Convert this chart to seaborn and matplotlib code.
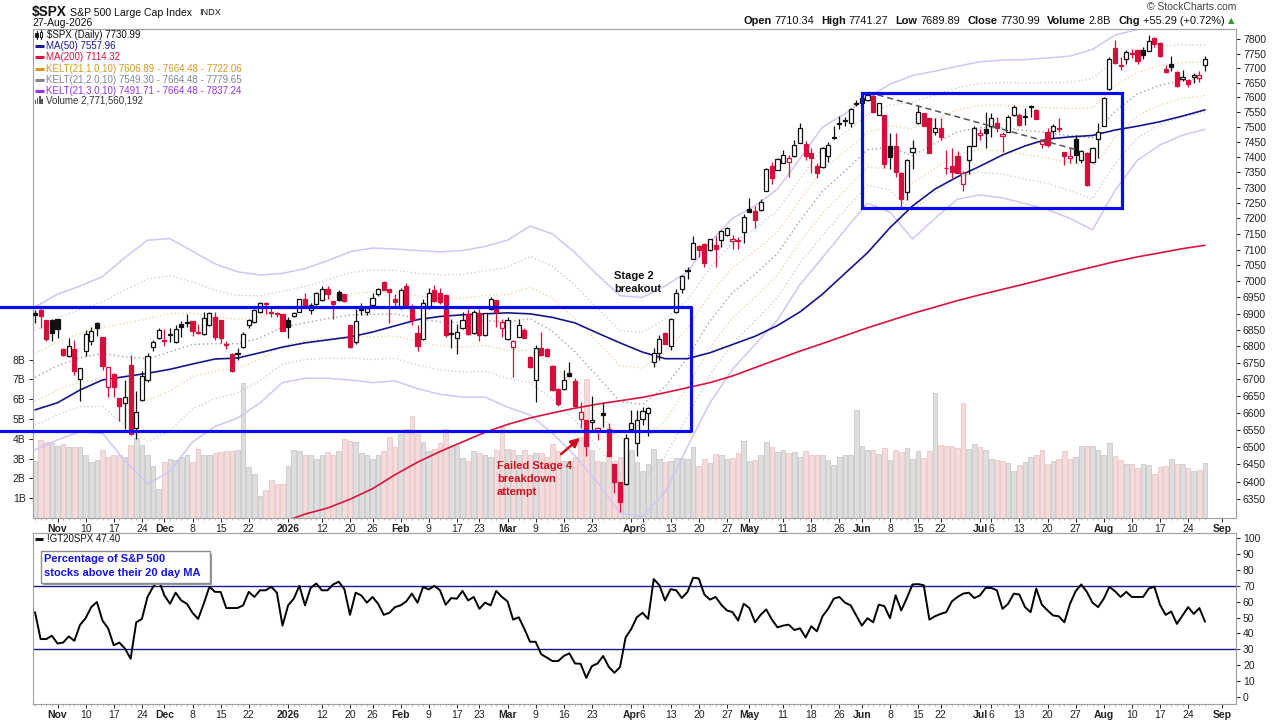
import numpy as np
import pandas as pd
import matplotlib
matplotlib.use("Agg")
import matplotlib.pyplot as plt
from matplotlib.lines import Line2D
from matplotlib.patches import Rectangle
from matplotlib.ticker import FixedLocator, NullLocator, FuncFormatter
import seaborn as sns

# ---------------- data ----------------
# daily candles, 28-Oct-2025 .. 27-Aug-2026
opens = [6901, 6912, 6879, 6881, 6884, 6791, 6771, 6791, 6701, 6786,
         6817, 6870, 6829, 6676, 6717, 6644, 6629, 6742, 6556, 6639,
         6699, 6796, 6824, 6819, 6833, 6814, 6869, 6871, 6877, 6841,
         6836, 6864, 6889, 6879, 6806, 6776, 6780, 6796, 6864, 6874,
         6904, 6934, 6906, 6902, 6897, 6881, 6891, 6906, 6944, 6912,
         6929, 6942, 6976, 6938, 6966, 6959, 6866, 6814, 6912, 6906,
         6926, 6962, 6999, 6977, 6946, 6916, 6984, 6922, 6839, 6821,
         6916, 6974, 6965, 6956, 6839, 6824, 6854, 6898, 6839, 6901,
         6834, 6913, 6942, 6854, 6821, 6797, 6829, 6849, 6768, 6698,
         6793, 6791, 6740, 6670, 6670, 6718, 6695, 6582, 6579, 6572,
         6548, 6600, 6552, 6451, 6400, 6394, 6552, 6511, 6582, 6599,
         6751, 6780, 6839, 6801, 6906, 6975, 7034, 7071, 7113, 7118,
         7099, 7116, 7131, 7147, 7127, 7130, 7156, 7230, 7225, 7227,
         7290, 7372, 7358, 7381, 7385, 7403, 7448, 7444, 7412, 7372,
         7366, 7403, 7468, 7510, 7524, 7515, 7578, 7580, 7593, 7604,
         7541, 7539, 7436, 7436, 7346, 7285, 7418, 7513, 7546, 7529,
         7482, 7498, 7365, 7372, 7404, 7311, 7390, 7438, 7473, 7493,
         7502, 7513, 7470, 7484, 7540, 7540, 7533, 7571, 7557, 7442,
         7485, 7487, 7496, 7416, 7398, 7460, 7391, 7412, 7384, 7459,
         7505, 7630, 7770, 7712, 7733, 7753, 7764, 7764, 7761, 7806,
         7787, 7699, 7715, 7688, 7663, 7659, 7671, 7666, 7710.34]
highs = [6911, 6919, 6880, 6884, 6884, 6795, 6824, 6819, 6734, 6849,
         6859, 6874, 6829, 6737, 6719, 6644, 6699, 6774, 6664, 6724,
         6779, 6819, 6854, 6851, 6854, 6866, 6876, 6899, 6877, 6869,
         6904, 6904, 6904, 6879, 6815, 6778, 6794, 6844, 6884, 6914,
         6936, 6937, 6916, 6906, 6899, 6889, 6904, 6946, 6964, 6934,
         6966, 6984, 6984, 6938, 6974, 6962, 6866, 6914, 6934, 6924,
         6964, 6979, 7000, 6977, 6959, 6979, 6994, 6929, 6864, 6944,
         6979, 6989, 6980, 6959, 6884, 6869, 6906, 6913, 6911, 6913,
         6903, 6952, 6942, 6882, 6890, 6819, 6882, 6854, 6770, 6803,
         6844, 6793, 6743, 6673, 6728, 6753, 6703, 6633, 6579, 6650,
         6560, 6631, 6570, 6451, 6400, 6539, 6609, 6609, 6617, 6616,
         6793, 6834, 6844, 6885, 6975, 7021, 7046, 7144, 7116, 7120,
         7134, 7144, 7162, 7173, 7147, 7139, 7214, 7265, 7240, 7262,
         7364, 7383, 7396, 7424, 7406, 7457, 7515, 7454, 7429, 7379,
         7434, 7451, 7503, 7537, 7535, 7563, 7593, 7600, 7620, 7615,
         7582, 7541, 7479, 7479, 7350, 7394, 7457, 7574, 7546, 7529,
         7529, 7529, 7423, 7429, 7420, 7354, 7438, 7502, 7493, 7552,
         7546, 7535, 7484, 7540, 7576, 7547, 7563, 7576, 7560, 7457,
         7496, 7509, 7529, 7418, 7429, 7475, 7423, 7418, 7434, 7513,
         7602, 7738, 7798, 7740, 7764, 7767, 7764, 7775, 7815, 7809,
         7792, 7711, 7742, 7690, 7695, 7661, 7684, 7689, 7741.27]
lows = [6871, 6854, 6817, 6816, 6824, 6770, 6766, 6712, 6634, 6771,
        6804, 6831, 6729, 6647, 6647, 6576, 6554, 6534, 6524, 6634,
        6692, 6786, 6821, 6802, 6812, 6809, 6829, 6859, 6831, 6837,
        6834, 6862, 6819, 6809, 6790, 6722, 6759, 6794, 6856, 6871,
        6902, 6899, 6889, 6889, 6846, 6824, 6889, 6904, 6922, 6899,
        6927, 6939, 6944, 6884, 6939, 6936, 6794, 6806, 6894, 6894,
        6924, 6954, 6972, 6871, 6919, 6914, 6916, 6864, 6784, 6819,
        6914, 6937, 6930, 6829, 6794, 6776, 6852, 6834, 6836, 6817,
        6832, 6911, 6860, 6829, 6819, 6708, 6827, 6824, 6733, 6633,
        6770, 6768, 6666, 6620, 6668, 6708, 6618, 6555, 6473, 6545,
        6521, 6560, 6471, 6367, 6315, 6391, 6545, 6473, 6563, 6531,
        6736, 6758, 6806, 6788, 6901, 6963, 7006, 7069, 7078, 7044,
        7097, 7044, 7108, 7142, 7102, 7102, 7121, 7220, 7168, 7225,
        7290, 7313, 7356, 7379, 7333, 7401, 7446, 7390, 7349, 7330,
        7363, 7384, 7460, 7493, 7505, 7499, 7571, 7575, 7589, 7546,
        7539, 7364, 7362, 7336, 7235, 7260, 7360, 7511, 7502, 7412,
        7475, 7457, 7345, 7330, 7350, 7288, 7345, 7436, 7457, 7429,
        7468, 7484, 7418, 7482, 7537, 7505, 7507, 7535, 7526, 7430,
        7435, 7462, 7485, 7374, 7379, 7379, 7379, 7304, 7379, 7397,
        7502, 7627, 7716, 7695, 7714, 7736, 7714, 7733, 7759, 7772,
        7740, 7684, 7689, 7635, 7655, 7635, 7648, 7652, 7689.89]
closes = [6894, 6891, 6822, 6841, 6852, 6774, 6799, 6724, 6734, 6836,
          6847, 6854, 6741, 6736, 6676, 6619, 6646, 6539, 6604, 6709,
          6769, 6814, 6849, 6816, 6836, 6852, 6859, 6874, 6847, 6844,
          6886, 6902, 6829, 6826, 6803, 6724, 6777, 6836, 6881, 6911,
          6931, 6928, 6902, 6898, 6847, 6857, 6901, 6944, 6924, 6926,
          6964, 6976, 6961, 6928, 6942, 6938, 6796, 6877, 6914, 6916,
          6949, 6976, 6974, 6966, 6936, 6972, 6919, 6881, 6801, 6931,
          6964, 6939, 6935, 6834, 6836, 6844, 6880, 6837, 6906, 6834,
          6901, 6944, 6906, 6875, 6880, 6815, 6866, 6826, 6736, 6793,
          6773, 6771, 6668, 6625, 6698, 6711, 6620, 6604, 6503, 6578,
          6555, 6593, 6473, 6400, 6341, 6526, 6569, 6580, 6606, 6614,
          6780, 6821, 6807, 6882, 6963, 7017, 7037, 7121, 7100, 7059,
          7134, 7102, 7158, 7169, 7134, 7126, 7205, 7222, 7195, 7253,
          7361, 7331, 7393, 7406, 7396, 7439, 7496, 7403, 7398, 7349,
          7429, 7441, 7465, 7515, 7519, 7560, 7581, 7597, 7610, 7550,
          7580, 7377, 7401, 7350, 7262, 7390, 7429, 7550, 7505, 7415,
          7496, 7468, 7363, 7352, 7348, 7346, 7436, 7498, 7479, 7480,
          7532, 7498, 7478, 7535, 7568, 7507, 7538, 7568, 7527, 7453,
          7440, 7505, 7493, 7405, 7404, 7406, 7421, 7308, 7430, 7484,
          7597, 7733, 7718, 7707, 7756, 7749, 7724, 7747, 7795, 7785,
          7741, 7686, 7704, 7638, 7670, 7646, 7678, 7675.70, 7730.99]
# volume in billions of shares
volume_b = [2.90, 3.95, 3.86, 3.78, 3.66, 3.75, 3.61, 3.58, 3.58, 3.16,
            2.82, 2.94, 3.41, 3.10, 3.16, 3.16, 3.10, 3.71, 4.05, 3.71,
            3.20, 2.65, 1.47, 2.82, 2.99, 2.94, 3.10, 3.16, 2.82, 3.49,
            3.16, 3.16, 3.27, 3.31, 3.37, 3.37, 3.41, 6.80, 2.60, 2.23,
            1.09, 1.42, 1.93, 1.73, 1.73, 2.65, 3.44, 3.37, 3.20, 3.20,
            2.99, 3.20, 3.33, 3.20, 3.37, 4.00, 3.88, 3.83, 3.27, 3.20,
            2.99, 3.20, 3.37, 4.08, 3.61, 4.25, 4.50, 5.13, 4.25, 3.83,
            3.37, 3.49, 3.78, 4.50, 3.61, 3.66, 3.04, 2.90, 3.37, 3.27,
            3.20, 3.10, 3.44, 4.62, 3.49, 3.41, 3.20, 3.41, 3.20, 3.27,
            3.27, 3.07, 3.75, 3.37, 2.90, 2.90, 3.07, 4.10, 7.00, 3.41,
            2.90, 2.82, 3.32, 2.90, 3.07, 4.00, 3.41, 2.82, 2.36, 2.73,
            3.49, 2.99, 2.82, 2.90, 3.04, 3.04, 2.99, 3.61, 2.65, 2.99,
            2.78, 3.24, 3.20, 2.99, 3.04, 3.29, 3.91, 2.90, 2.94, 3.20,
            3.86, 3.61, 3.33, 3.41, 3.27, 3.33, 3.07, 3.37, 3.16, 3.20,
            3.20, 2.94, 2.70, 3.10, 3.16, 3.20, 5.46, 3.66, 3.41, 3.41,
            3.24, 3.54, 2.94, 3.44, 3.33, 3.54, 2.99, 3.36, 3.04, 3.36,
            6.32, 3.71, 3.66, 3.66, 3.54, 5.82, 3.49, 3.75, 3.61, 3.41,
            2.99, 2.94, 2.90, 2.78, 2.35, 2.69, 2.85, 3.10, 3.20, 3.41,
            2.74, 2.90, 2.99, 3.36, 2.99, 3.10, 3.64, 3.64, 3.64, 3.44,
            3.20, 3.78, 3.14, 2.94, 2.74, 2.74, 2.53, 2.74, 2.69, 2.23,
            2.60, 2.63, 2.99, 2.74, 2.74, 2.53, 2.36, 2.40, 2.77]
# !GT20SPX - % of S&P 500 stocks above their 20 day MA
gt20 = [53.4, 36.4, 36.4, 38.5, 33.6, 34.2, 38.1, 35.3, 45.3, 49.6,
        56.6, 59.8, 48.1, 43.2, 32.5, 34.2, 30.4, 24.0, 47.0, 49.1,
        63.0, 69.4, 73.6, 64.0, 58.7, 65.7, 60.8, 58.7, 53.0, 49.1,
        58.7, 69.4, 66.2, 66.2, 56.0, 56.0, 56.0, 57.7, 66.2, 63.0,
        67.2, 67.2, 69.4, 65.7, 44.9, 57.7, 61.9, 70.0, 57.7, 68.7,
        71.5, 67.2, 67.2, 70.9, 72.6, 67.9, 51.7, 65.7, 64.0, 59.4,
        63.0, 58.7, 51.7, 53.0, 56.6, 57.7, 60.2, 65.1, 59.4, 69.4,
        67.7, 70.0, 67.2, 58.1, 62.3, 61.9, 66.8, 60.8, 63.0, 55.5,
        59.4, 57.7, 66.8, 63.0, 60.2, 48.7, 50.2, 42.8, 34.7, 34.7,
        26.8, 24.7, 22.5, 22.5, 25.7, 27.4, 21.0, 20.8, 11.9, 19.3,
        21.0, 25.7, 18.9, 15.1, 18.7, 37.4, 42.8, 50.2, 53.0, 49.1,
        74.3, 70.4, 60.8, 67.9, 67.2, 62.3, 66.2, 75.1, 74.7, 64.5,
        61.3, 63.0, 58.1, 54.5, 53.4, 48.1, 58.7, 56.0, 47.0, 51.7,
        55.1, 48.7, 43.8, 44.9, 45.5, 42.1, 43.2, 37.4, 44.5, 41.3,
        50.8, 55.5, 61.9, 63.0, 59.4, 57.7, 51.3, 44.9, 49.6, 47.0,
        58.1, 57.2, 49.6, 64.0, 54.5, 62.3, 70.9, 71.1, 70.4, 48.7,
        50.8, 52.3, 53.4, 60.2, 63.0, 65.1, 65.7, 62.3, 64.0, 68.7,
        68.7, 67.2, 55.5, 58.7, 65.1, 64.5, 56.6, 53.4, 68.3, 58.1,
        54.5, 51.3, 50.8, 47.0, 58.7, 66.6, 70.9, 66.2, 59.4, 56.6,
        61.9, 69.4, 66.6, 63.0, 66.2, 63.0, 63.0, 63.0, 68.3, 69.4,
        58.1, 51.7, 53.8, 46.0, 51.3, 56.6, 52.3, 56.0, 47.4]

# overlays, read every 4th trading day
band_idx = list(range(0, 209, 4))
kelt3_upper = [6920, 6960, 6985, 7015, 7075, 7130, 7135, 7095, 7055, 7030,
               7020, 7025, 7040, 7065, 7093, 7105, 7102, 7097, 7093, 7097,
               7110, 7130, 7175, 7150, 7090, 7020, 6955, 6950, 6985, 7030,
               7125, 7200, 7240, 7295, 7395, 7500, 7545, 7600, 7645, 7675,
               7690, 7707, 7722, 7728, 7730, 7735, 7742, 7765, 7815, 7835,
               7843, 7843, 7837]
kelt3_lower = [6492, 6521, 6545, 6540, 6460, 6393, 6430, 6515, 6560, 6585,
               6630, 6690, 6703, 6703, 6698, 6690, 6695, 6672, 6655, 6647,
               6647, 6617, 6594, 6540, 6475, 6397, 6312, 6301, 6370, 6501,
               6630, 6730, 6805, 6880, 6990, 7075, 7163, 7249, 7220, 7134,
               7200, 7262, 7276, 7266, 7248, 7228, 7200, 7163, 7290, 7390,
               7440, 7473, 7492]
ma50 = [6609, 6630, 6668, 6698, 6708, 6718, 6730, 6746, 6761, 6764,
        6780, 6797, 6810, 6819, 6828, 6843, 6862, 6881, 6891, 6896,
        6899, 6902, 6899, 6888, 6871, 6840, 6810, 6782, 6762, 6762,
        6780, 6805, 6830, 6863, 6905, 6960, 7025, 7090, 7170, 7240,
        7295, 7335, 7370, 7407, 7437, 7460, 7467, 7472, 7490, 7503,
        7518, 7537, 7558]
ma200_idx = list(range(44, 209, 4))
ma200 = [6285, 6308, 6325, 6350, 6380, 6420, 6456, 6487, 6515, 6543,
         6566, 6585, 6600, 6614, 6626, 6636, 6646, 6660, 6675, 6690,
         6710, 6735, 6760, 6785, 6808, 6832, 6856, 6878, 6900, 6920,
         6940, 6958, 6975, 6992, 7010, 7028, 7045, 7062, 7077, 7090,
         7103, 7114]

holidays = ["2025-11-27", "2025-12-25", "2026-01-01", "2026-01-19", "2026-02-16",
            "2026-04-03", "2026-05-25", "2026-06-19", "2026-07-03"]
xtick_dates = [("2025-11-03", "Nov"), ("2025-11-10", "10"), ("2025-11-17", "17"),
               ("2025-11-24", "24"), ("2025-12-01", "Dec"), ("2025-12-08", "8"),
               ("2025-12-15", "15"), ("2025-12-22", "22"), ("2026-01-02", "2026"),
               ("2026-01-12", "12"), ("2026-01-20", "20"), ("2026-01-26", "26"),
               ("2026-02-02", "Feb"), ("2026-02-09", "9"), ("2026-02-17", "17"),
               ("2026-02-23", "23"), ("2026-03-02", "Mar"), ("2026-03-09", "9"),
               ("2026-03-16", "16"), ("2026-03-23", "23"), ("2026-04-01", "Apr"),
               ("2026-04-06", "6"), ("2026-04-13", "13"), ("2026-04-20", "20"),
               ("2026-04-27", "27"), ("2026-05-01", "May"), ("2026-05-11", "11"),
               ("2026-05-18", "18"), ("2026-05-26", "26"), ("2026-06-01", "Jun"),
               ("2026-06-08", "8"), ("2026-06-15", "15"), ("2026-06-22", "22"),
               ("2026-07-01", "Jul"), ("2026-07-06", "6"), ("2026-07-13", "13"),
               ("2026-07-20", "20"), ("2026-07-27", "27"), ("2026-08-03", "Aug"),
               ("2026-08-10", "10"), ("2026-08-17", "17"), ("2026-08-24", "24"),
               ("2026-09-01", "Sep")]
month_labels = {"Nov", "Dec", "2026", "Feb", "Mar", "Apr", "May", "Jun", "Jul", "Aug", "Sep"}

# ---------------- figure ----------------
sns.set_theme(style="white")
plt.rcParams["font.family"] = ["Liberation Sans", "DejaVu Sans"]

W, H = 1280, 720
fig = plt.figure(figsize=(W / 100, H / 100), dpi=100, facecolor="white")


def fx(px):
    return px / W


def fy(py):
    return 1 - py / H


def fig_line(x0, y0, x1, y1, **kw):
    fig.add_artist(Line2D([fx(x0), fx(x1)], [fy(y0), fy(y1)], transform=fig.transFigure, zorder=6, **kw))


def fig_rect(x0, y0, w, h, **kw):
    fig.add_artist(Rectangle((fx(x0), fy(y0 + h)), w / W, h / H, transform=fig.transFigure, zorder=6, **kw))


LEFT, RIGHT = 32.5, 1236.0
MAIN_TOP, MAIN_BOT = 28.5, 518.0
LOW_TOP, LOW_BOT = 532.5, 704.0
DAY_PX, FIRST_PX = 5.625, 35.0

main_rect = [fx(LEFT), fy(MAIN_BOT), (RIGHT - LEFT) / W, (MAIN_BOT - MAIN_TOP) / H]
ax_vol = fig.add_axes(main_rect, zorder=0)
ax = fig.add_axes(main_rect, zorder=1)
ax.patch.set_visible(False)
ax_low = fig.add_axes([fx(LEFT), fy(LOW_BOT), (RIGHT - LEFT) / W, (LOW_BOT - LOW_TOP) / H], zorder=0)

n = len(closes)
x = np.arange(n)
xlim = ((LEFT - FIRST_PX) / DAY_PX, (RIGHT - FIRST_PX) / DAY_PX)

cal = pd.bdate_range("2025-10-28", "2026-09-10")
cal = cal[~cal.isin(pd.to_datetime(holidays))]
day_pos = {d.strftime("%Y-%m-%d"): k for k, d in enumerate(cal)}
tick_pos = [day_pos[d] for d, _ in xtick_dates]
tick_txt = [t for _, t in xtick_dates]

RED = "#d40f3c"
BLACK = "#111111"
BLUE = "#0b0bf2"
NAVY = "#16168c"

o = np.array(opens, float)
h = np.array(highs, float)
l = np.array(lows, float)
c = np.array(closes, float)
prev = np.r_[c[0], c[:-1]]
down = c < prev

# volume behind the price
ax_vol.bar(x, volume_b, width=0.84,
           color=np.where(down, "#f4dcdc", "#dedede"),
           edgecolor=np.where(down, "#eac6c6", "#c9c9c9"), linewidth=0.6)
ax_vol.set_xlim(xlim)
ax_vol.set_ylim(0, (MAIN_BOT - MAIN_TOP) / 19.8)
ax_vol.set_xticks([])
ax_vol.set_yticks(range(1, 9))
ax_vol.set_yticklabels([f"{v}B" for v in range(1, 9)])
ax_vol.tick_params(axis="y", left=True, labelleft=True, labelsize=7.5, length=3, pad=2,
                   colors="#222222", width=0.7)
for s in ax_vol.spines.values():
    s.set_visible(False)

# price panel
ax.set_yscale("log")
ax.set_xlim(xlim)
ax.set_ylim(6297, 7838)

up3 = np.array(kelt3_upper, float)
dn3 = np.array(kelt3_lower, float)
mid = (up3 + dn3) / 2
half = (up3 - dn3) / 2
for k, col in [(1, "#efcf96"), (2, "#c4c8ce")]:
    sns.lineplot(x=band_idx, y=mid + half * k / 3, ax=ax, color=col, linestyle=(0, (1, 2)),
                 linewidth=0.9, legend=False)
    sns.lineplot(x=band_idx, y=mid - half * k / 3, ax=ax, color=col, linestyle=(0, (1, 2)),
                 linewidth=0.9, legend=False)
sns.lineplot(x=band_idx, y=mid, ax=ax, color="#a799bd", linestyle=(0, (1, 2)), linewidth=1.0, legend=False)
sns.lineplot(x=band_idx, y=up3, ax=ax, color="#d4c4f5", linewidth=1.1, legend=False)
sns.lineplot(x=band_idx, y=dn3, ax=ax, color="#d4c4f5", linewidth=1.1, legend=False)

sns.lineplot(x=ma200_idx, y=ma200, ax=ax, color="#dc143c", linewidth=1.2, legend=False)
sns.lineplot(x=band_idx, y=ma50, ax=ax, color=NAVY, linewidth=1.2, legend=False)

edge = np.where(down, RED, BLACK)
fill = np.where(c < o, edge, "white")
ax.vlines(x, l, h, colors=edge, linewidth=0.9, zorder=4)
ax.bar(x, np.maximum(np.abs(c - o), 0.8), bottom=np.minimum(o, c), width=0.74,
       color=fill, edgecolor=edge, linewidth=0.9, zorder=5)

# annotation boxes and trend line
ax.plot([-6.5, 116.6], [6920, 6920], color=BLUE, lw=2.3, clip_on=False, zorder=7, solid_capstyle="butt")
ax.plot([-6.5, 116.6], [6547, 6547], color=BLUE, lw=2.3, clip_on=False, zorder=7, solid_capstyle="butt")
ax.plot([116.6, 116.6], [6547, 6920], color=BLUE, lw=2.3, zorder=7)
ax.add_patch(Rectangle((147.0, 7233), 46.2, 7615 - 7233, fill=False, edgecolor=BLUE, lw=2.3, zorder=7))
ax.plot([148.1, 185.0], [7618, 7425], color="#555555", lw=1.1, linestyle=(0, (4, 2.5)), zorder=6)

ax.yaxis.set_major_locator(FixedLocator(list(range(6350, 7801, 50))))
ax.yaxis.set_minor_locator(NullLocator())
ax.yaxis.set_major_formatter(FuncFormatter(lambda v, _: f"{v:.0f}"))
ax.tick_params(axis="y", which="both", left=False, labelleft=False, right=True, labelright=True,
               labelsize=7.5, length=3, pad=2, colors="#222222", width=0.7)

for axis in (ax, ax_low):
    axis.set_xticks(tick_pos)
    axis.set_xticklabels(tick_txt)
    axis.set_xticks(x, minor=True)
    axis.tick_params(axis="x", which="major", bottom=True, length=3, pad=1.5, labelsize=7.5,
                     colors="#222222", width=0.7)
    axis.tick_params(axis="x", which="minor", bottom=True, length=1.5, width=0.5, color="#999999")
    for t in axis.get_xticklabels():
        if t.get_text() in month_labels:
            t.set_fontweight("bold")
    for s in axis.spines.values():
        s.set_color("#a0a0a0")
        s.set_linewidth(0.8)
    axis.set_xlabel("")
    axis.set_ylabel("")

# lower panel
ax_low.set_xlim(xlim)
ax_low.set_ylim(-4.6, 103.7)
ax_low.axhline(70, color=NAVY, lw=1.0)
ax_low.axhline(30, color=NAVY, lw=1.0)
sns.lineplot(x=x, y=gt20, ax=ax_low, color="black", linewidth=1.4, legend=False)
ax_low.set_yticks(range(0, 101, 10))
ax_low.tick_params(axis="y", left=False, labelleft=False, right=True, labelright=True,
                   labelsize=7.5, length=3, pad=2, colors="#222222", width=0.7)
ax_low.set_xlabel("")
ax_low.set_ylabel("")

# ---------------- texts ----------------
fig.text(fx(32), fy(12), r"\$SPX", fontsize=9.8, fontweight="bold", va="center", color="#111111")
fig.text(fx(70), fy(12.5), "S&P 500 Large Cap Index", fontsize=7.6, va="center", color="#111111")
fig.text(fx(199), fy(12.5), "INDX", fontsize=6.6, va="center", color="#111111")
fig.text(fx(32), fy(23), "27-Aug-2026", fontsize=7.5, va="center", color="#111111")
fig.text(fx(1236), fy(7), "© StockCharts.com", fontsize=7.5, va="center", ha="right", color="#444444")

parts = [("Open", True), ("7710.34", False), ("High", True), ("7741.27", False),
         ("Low", True), ("7689.89", False), ("Close", True), ("7730.99", False),
         ("Volume", True), ("2.8B", False), ("Chg", True), ("+55.29 (+0.72%)", False)]
fig.canvas.draw()
renderer = fig.canvas.get_renderer()
items = []
for s, bold in parts:
    t = fig.text(0, fy(21), s, fontsize=7.9, fontweight="bold" if bold else "normal",
                 va="center", color="#111111")
    items.append((t, t.get_window_extent(renderer=renderer).width, bold))
tri = fig.text(0, fy(21), "▲", fontsize=6, va="center", color="#2a9a2a", family=["DejaVu Sans"])
tri_w = tri.get_window_extent(renderer=renderer).width
total = sum(wd + (3 if b else 7) for _, wd, b in items) + tri_w
xpos = 1238 - total
for t, wd, b in items:
    t.set_x(fx(xpos))
    xpos += wd + (3 if b else 7)
tri.set_x(fx(xpos - 4))

# price legend
fig.add_artist(Line2D([fx(36.5)] * 2, [fy(31), fy(39)], transform=fig.transFigure, color=BLACK, lw=0.8, zorder=6))
fig_rect(35.3, 33, 2.4, 4, facecolor=BLACK, edgecolor=BLACK, lw=0.6)
fig.add_artist(Line2D([fx(41)] * 2, [fy(30), fy(39)], transform=fig.transFigure, color=BLACK, lw=0.8, zorder=6))
fig_rect(39.8, 32, 2.4, 5, facecolor="white", edgecolor=BLACK, lw=0.7)
fig.text(fx(47), fy(35), r"\$SPX (Daily) 7730.99", fontsize=7, va="center", color="#111111")
legend_rows = [("MA(50) 7557.96", "#1a1a99", 46),
               ("MA(200) 7114.32", "#dc143c", 57.3),
               ("KELT(21,1.0,10) 7606.89 - 7664.48 - 7722.06", "#d49a1a", 68.8),
               ("KELT(21,2.0,10) 7549.30 - 7664.48 - 7779.65", "#7d8893", 80),
               ("KELT(21,3.0,10) 7491.71 - 7664.48 - 7837.24", "#9933ee", 90.8)]
for label, col, yy in legend_rows:
    fig_line(35, yy, 44, yy, color=col, lw=2.2, solid_capstyle="butt")
    fig.text(fx(45.5), fy(yy), label, fontsize=7, va="center", color=col)
for bx, bh in [(34.5, 4), (36.8, 6), (39.1, 8), (41.4, 5)]:
    fig_rect(bx, 104 - bh, 1.6, bh, facecolor="#555555", edgecolor="none")
fig.text(fx(45.5), fy(100.5), "Volume 2,771,560,192", fontsize=7, va="center", color="#333333")

# chart notes
fig.text(fx(614), fy(276), "Stage 2", fontsize=8, fontweight="bold", va="center", color="#111111")
fig.text(fx(614), fy(289), "breakout", fontsize=8, fontweight="bold", va="center", color="#111111")
for yy, s in [(466, "Failed Stage 4"), (479, "breakdown"), (492, "attempt")]:
    fig.text(fx(497), fy(yy), s, fontsize=8, fontweight="bold", va="center", color="#cc1020")
ax.annotate("", xy=(fx(582), fy(436)), xytext=(fx(559), fy(456)),
            xycoords="figure fraction", textcoords="figure fraction",
            arrowprops=dict(arrowstyle="-|>", color="#cc1020", lw=1.8, mutation_scale=13), zorder=8)

# lower panel legend and note
fig_line(35, 539, 43, 539, color=BLACK, lw=2.2, solid_capstyle="butt")
fig.text(fx(47), fy(539), "!GT20SPX 47.40", fontsize=7, va="center", color="#111111")
fig_rect(43, 553.5, 169, 31.5, facecolor="#9a9a9a", edgecolor="none")
fig_rect(41, 551, 169, 31.5, facecolor="white", edgecolor="#8c8c8c", lw=1.0)
fig.text(fx(44), fy(559.5), "Percentage of S&P 500", fontsize=8, fontweight="bold",
         va="center", color="#1212e6", zorder=7)
fig.text(fx(44), fy(572.5), "stocks above their 20 day MA", fontsize=8, fontweight="bold",
         va="center", color="#1212e6", zorder=7)

fig.savefig("out.png", dpi=100, facecolor="white")
